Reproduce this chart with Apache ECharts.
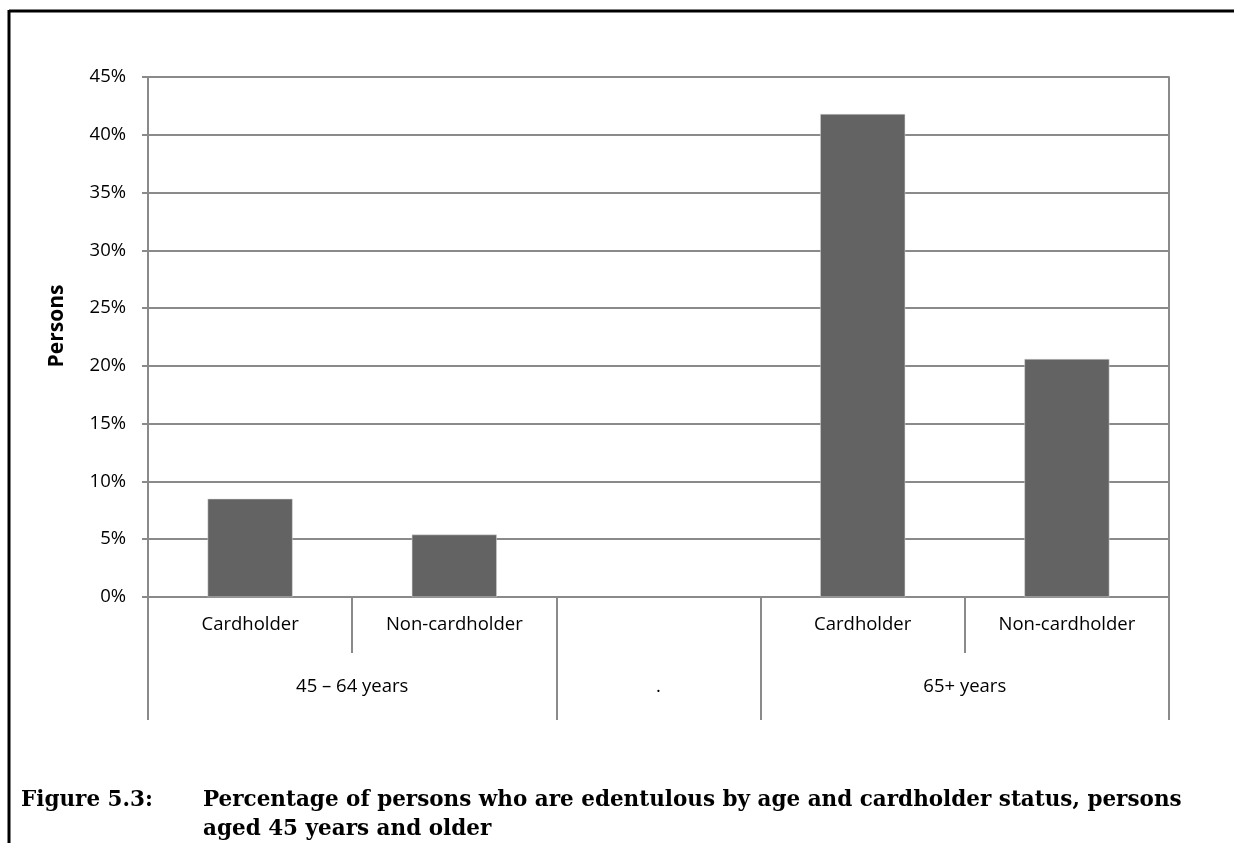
<!DOCTYPE html>
<html>
<head>
<meta charset="utf-8">
<script src="https://cdn.jsdelivr.net/npm/echarts@6/dist/echarts.min.js"></script>
<style>
html,body{margin:0;padding:0;background:#fff;}
#chart{width:1234px;height:843px;}
</style>
</head>
<body>
<div id="chart"></div>
<script>
const categories = ['Cardholder', 'Non-cardholder', '', 'Cardholder', 'Non-cardholder'];
const values = [8.5, 5.4, null, 41.8, 20.6];
const groupNames = ['45 – 64 years', '.', '65+ years'];
const groupCenters = [1, 2.5, 4];
const groupBounds = [0, 2, 3, 5];
const yMin = 0, yMax = 45, yStep = 5;
const yAxisTitle = 'Persons';
const captionLabel = 'Figure 5.3:';
const captionText = 'Percentage of persons who are edentulous by age and cardholder status, persons\naged 45 years and older';

const gray = '#8a8a8a';
const chart = echarts.init(document.getElementById('chart'), null, {renderer: 'canvas'});
chart.setOption({
  animation: false,
  backgroundColor: '#fff',
  title: [
    {text: captionLabel, left: 21, top: 786, padding: 0,
     textStyle: {fontFamily: 'DejaVu Serif', fontWeight: 'bold', fontSize: 21.5, color: '#000', lineHeight: 29}},
    {text: captionText, left: 203, top: 786, padding: 0,
     textStyle: {fontFamily: 'DejaVu Serif', fontWeight: 'bold', fontSize: 21.5, color: '#000', lineHeight: 29}}
  ],
  graphic: [
    {type: 'line', shape: {x1: 9, y1: 11, x2: 1234, y2: 11}, style: {stroke: '#000', lineWidth: 3}},
    {type: 'line', shape: {x1: 9, y1: 10, x2: 9, y2: 843}, style: {stroke: '#000', lineWidth: 3}}
  ],
  grid: {left: 148, right: 65, top: 77, bottom: 246, containLabel: false},
  xAxis: [
    {type: 'category', data: categories, position: 'bottom',
     axisLine: {show: true, lineStyle: {color: gray, width: 2}},
     axisTick: {show: true, interval: 0, length: 56, lineStyle: {color: gray, width: 2}},
     axisLabel: {interval: 0, margin: 18, fontFamily: 'Open Sans', fontSize: 18.5, color: '#000'}},
    {type: 'value', min: 0, max: 5, position: 'bottom', offset: 0,
     axisLine: {show: false},
     splitLine: {show: false},
     axisTick: {show: true, customValues: groupBounds, length: 123, lineStyle: {color: gray, width: 2}},
     axisLabel: {show: true, customValues: groupCenters, margin: 80, fontFamily: 'Open Sans', fontSize: 18.5, color: '#000',
       formatter: function (v) { const i = groupCenters.indexOf(v); return i >= 0 ? groupNames[i] : ''; }}}
  ],
  yAxis: [
    {type: 'value', min: yMin, max: yMax, interval: yStep, position: 'left',
     name: yAxisTitle, nameLocation: 'middle', nameGap: 80,
     nameTextStyle: {fontFamily: 'Open Sans', fontWeight: 'bold', fontSize: 21, color: '#000', padding: [0, 0, 0, 22]},
     axisLine: {show: true, lineStyle: {color: gray, width: 2}},
     axisTick: {show: true, length: 6, lineStyle: {color: gray, width: 2}},
     axisLabel: {margin: 22, fontFamily: 'Open Sans', fontSize: 18.5, color: '#000', formatter: '{value}%'},
     splitLine: {show: true, lineStyle: {color: gray, width: 2}}},
    {type: 'value', min: yMin, max: yMax, interval: yStep, position: 'right',
     axisLine: {show: true, lineStyle: {color: gray, width: 2}},
     axisTick: {show: false}, axisLabel: {show: false}, splitLine: {show: false}}
  ],
  series: [
    {type: 'bar', data: values, xAxisIndex: 0, yAxisIndex: 0, barWidth: 85,
     itemStyle: {color: '#636363', borderColor: '#dcdcdc', borderWidth: 0.5}}
  ]
});
</script>
</body>
</html>
